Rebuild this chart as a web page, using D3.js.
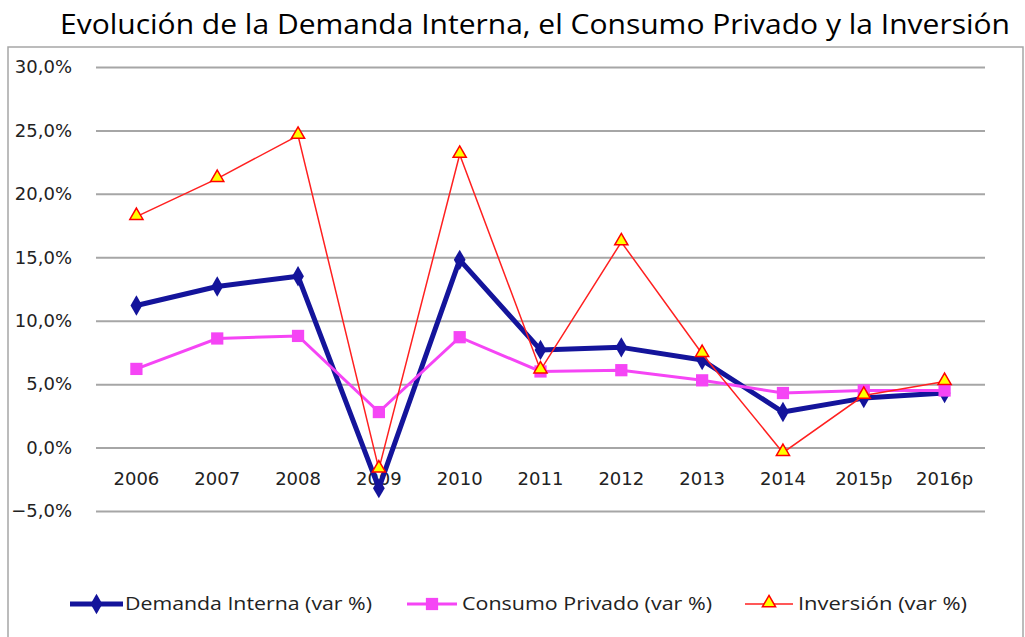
<!DOCTYPE html>
<html><head><meta charset="utf-8">
<script src="https://cdn.jsdelivr.net/npm/d3@7"></script>
<style>html,body{margin:0;padding:0;background:#fff;}svg{display:block;}</style>
</head><body>
<svg id="chart" width="1025" height="637"></svg>
<script>
const title = "Evolución de la Demanda Interna, el Consumo Privado y la Inversión";
const categories = ["2006","2007","2008","2009","2010","2011","2012","2013","2014","2015p","2016p"];
const demandaInterna = [11.2, 12.7, 13.5, -3.2, 14.8, 7.7, 7.9, 6.9, 2.8, 3.9, 4.3];
const consumoPrivado = [6.2, 8.6, 8.8, 2.8, 8.7, 6.0, 6.1, 5.3, 4.3, 4.5, 4.5];
const inversion = [18.2, 21.2, 24.6, -1.7, 23.1, 6.1, 16.2, 7.4, -0.4, 4.1, 5.2];
const yTicks = [-5, 0, 5, 10, 15, 20, 25, 30];
const seriesNames = ["Demanda Interna (var %)", "Consumo Privado (var %)", "Inversión (var %)"];

const svg = d3.select("#chart");
const x = d3.scaleBand().domain(categories).range([96, 985]);
const y = d3.scaleLinear().domain([-5, 30]).range([511, 67]);
const fmt = v => d3.format(".1f")(v).replace(".", ",") + "%";

// frame
svg.append("rect").attr("x", 8).attr("y", 47).attr("width", 1015).attr("height", 640)
  .attr("fill", "none").attr("stroke", "#a6a6a6").attr("stroke-width", 1.5);

// title
svg.append("text").attr("x", 535).attr("y", 34).attr("text-anchor", "middle")
  .attr("font-family", "Open Sans").attr("font-size", 28).attr("fill", "#000")
  .attr("textLength", 950).attr("lengthAdjust", "spacingAndGlyphs").text(title);

// grid + y labels
const yAxis = d3.axisLeft(y).tickValues(yTicks).tickSize(-(985 - 96)).tickPadding(24).tickFormat(fmt);
const gy = svg.append("g").attr("transform", "translate(96,0)").call(yAxis);
gy.select(".domain").remove();
gy.selectAll(".tick line").attr("stroke", "#a6a6a6").attr("stroke-width", 2);
gy.selectAll(".tick text").attr("font-family", "DejaVu Sans").attr("font-size", 18).attr("fill", "#222");

// x labels at zero line
const xAxis = d3.axisBottom(x).tickSize(0).tickPadding(25);
const gx = svg.append("g").attr("transform", `translate(0,${y(0)})`).call(xAxis);
gx.select(".domain").remove();
gx.selectAll(".tick text").attr("font-family", "DejaVu Sans").attr("font-size", 18).attr("fill", "#222");

const cx = c => x(c) + x.bandwidth() / 2;
const line = d3.line().x(d => cx(d.c)).y(d => y(d.v));
const toPts = arr => categories.map((c, i) => ({c, v: arr[i]}));

const diamond = d3.symbol().type(d3.symbolDiamond).size(120);
const square = d3.symbol().type(d3.symbolSquare).size(150);
const triangle = d3.symbol().type(d3.symbolTriangle).size(75);

// Demanda Interna
svg.append("path").datum(toPts(demandaInterna)).attr("d", line)
  .attr("fill", "none").attr("stroke", "#14149b").attr("stroke-width", 5).attr("stroke-linejoin", "round");
svg.selectAll(".dm").data(toPts(demandaInterna)).join("path")
  .attr("transform", d => `translate(${cx(d.c)},${y(d.v)})`).attr("d", diamond).attr("fill", "#14149b");

// Consumo Privado
svg.append("path").datum(toPts(consumoPrivado)).attr("d", line)
  .attr("fill", "none").attr("stroke", "#f545f5").attr("stroke-width", 3);
svg.selectAll(".cm").data(toPts(consumoPrivado)).join("path")
  .attr("transform", d => `translate(${cx(d.c)},${y(d.v)})`).attr("d", square).attr("fill", "#f545f5");

// Inversión
svg.append("path").datum(toPts(inversion)).attr("d", line)
  .attr("fill", "none").attr("stroke", "#ff2020").attr("stroke-width", 1.5);
svg.selectAll(".im").data(toPts(inversion)).join("path")
  .attr("transform", d => `translate(${cx(d.c)},${y(d.v) - 1})`).attr("d", triangle)
  .attr("fill", "#ffff00").attr("stroke", "#ff0000").attr("stroke-width", 1.5);

// legend
const legY = 604;
const legend = [
  {name: seriesNames[0], x0: 70, x1: 123, color: "#14149b", sw: 5, sym: diamond, fill: "#14149b", stroke: "none", tx: 125, tw: 247},
  {name: seriesNames[1], x0: 407, x1: 457, color: "#f545f5", sw: 3, sym: square, fill: "#f545f5", stroke: "none", tx: 462, tw: 250},
  {name: seriesNames[2], x0: 745, x1: 793, color: "#ff2020", sw: 1.5, sym: triangle, fill: "#ffff00", stroke: "#ff0000", tx: 798, tw: 169}
];
const lg = svg.append("g");
legend.forEach(l => {
  lg.append("line").attr("x1", l.x0).attr("x2", l.x1).attr("y1", legY).attr("y2", legY)
    .attr("stroke", l.color).attr("stroke-width", l.sw);
  lg.append("path").attr("transform", `translate(${(l.x0 + l.x1) / 2},${legY - (l.sym === triangle ? 1 : 0)})`)
    .attr("d", l.sym).attr("fill", l.fill).attr("stroke", l.stroke).attr("stroke-width", 1.5);
  lg.append("text").attr("x", l.tx).attr("y", legY + 6).attr("font-family", "Open Sans").attr("font-size", 18)
    .attr("fill", "#222").attr("textLength", l.tw).attr("lengthAdjust", "spacingAndGlyphs").text(l.name);
});
</script>
</body></html>
